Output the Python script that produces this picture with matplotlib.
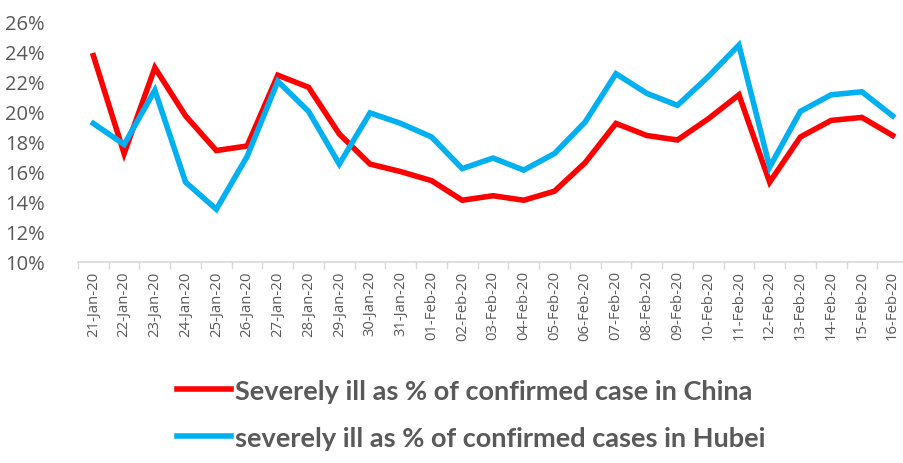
import matplotlib
matplotlib.use("Agg")
import matplotlib.pyplot as plt
from matplotlib.ticker import FixedLocator, PercentFormatter

dates = ["21-Jan-20", "22-Jan-20", "23-Jan-20", "24-Jan-20", "25-Jan-20", "26-Jan-20",
         "27-Jan-20", "28-Jan-20", "29-Jan-20", "30-Jan-20", "31-Jan-20", "01-Feb-20",
         "02-Feb-20", "03-Feb-20", "04-Feb-20", "05-Feb-20", "06-Feb-20", "07-Feb-20",
         "08-Feb-20", "09-Feb-20", "10-Feb-20", "11-Feb-20", "12-Feb-20", "13-Feb-20",
         "14-Feb-20", "15-Feb-20", "16-Feb-20"]
china = [23.7, 17.2, 22.9, 19.7, 17.4, 17.7, 22.4, 21.6, 18.5, 16.5, 16.0, 15.4,
         14.1, 14.4, 14.1, 14.7, 16.6, 19.2, 18.4, 18.1, 19.5, 21.1, 15.3, 18.3,
         19.4, 19.6, 18.4]
hubei = [19.2, 17.8, 21.4, 15.3, 13.5, 17.0, 22.0, 20.0, 16.5, 19.9, 19.2, 18.3,
         16.2, 16.9, 16.1, 17.2, 19.3, 22.5, 21.2, 20.4, 22.3, 24.4, 16.3, 20.0,
         21.1, 21.3, 19.7]
label_china = "Severely ill as % of confirmed case in China"
label_hubei = "severely ill as % of confirmed cases in Hubei"

plt.rcParams["font.family"] = ["Open Sans", "DejaVu Sans"]
gray = "#595959"
fig = plt.figure(figsize=(9.04, 4.64), dpi=100)
ax = fig.add_axes([78/904, 1-263/464, (908-78)/904, (263-22)/464])
x = list(range(len(dates)))
l1, = ax.plot(x, china, color="#FF0000", lw=4.0, solid_joinstyle="miter", label=label_china)
l2, = ax.plot(x, hubei, color="#00B0F0", lw=4.0, solid_joinstyle="miter", label=label_hubei)

ax.set_xlim(-0.5, len(dates)-0.5)
ax.set_ylim(10, 26)
ax.yaxis.set_major_locator(FixedLocator(list(range(10, 27, 2))))
ax.yaxis.set_major_formatter(PercentFormatter(decimals=0))
ax.set_xticks(x)
ax.set_xticklabels(dates, rotation=90, fontsize=10.7, color=gray)
ax.set_xticks([i - 0.5 for i in range(len(dates)+1)], minor=True)
ax.tick_params(axis="x", which="major", length=0, pad=6)
ax.tick_params(axis="x", which="minor", length=5, color="#D9D9D9", width=1)
ax.tick_params(axis="y", length=0, pad=24, labelsize=14.5, labelcolor=gray)
for s in ["top", "right", "left"]:
    ax.spines[s].set_visible(False)
ax.spines["bottom"].set_color("#D9D9D9")
ax.spines["bottom"].set_linewidth(1.2)

leg = fig.legend(handles=[l1, l2], loc="upper left", bbox_to_anchor=(163/904, 1-366/464),
                 frameon=False, prop={"family": "Lato", "weight": "bold", "size": 19.5},
                 handlelength=2.0, handletextpad=0.15, labelspacing=0.85, borderpad=0)
for t in leg.get_texts():
    t.set_color(gray)
fig.savefig("out.png", dpi=100)
